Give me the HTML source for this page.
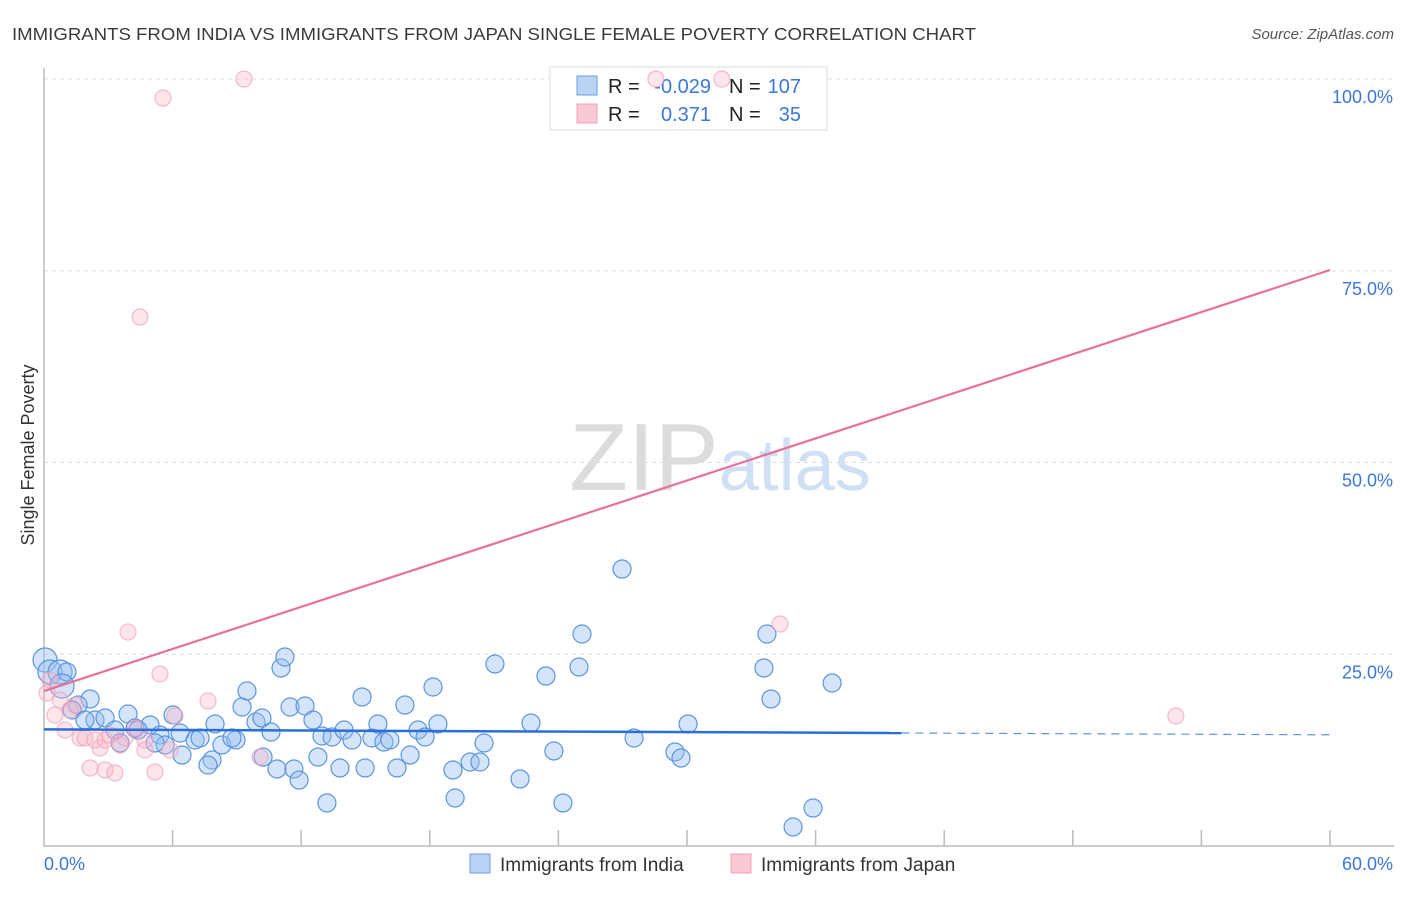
<!DOCTYPE html>
<html><head><meta charset="utf-8"><style>
body{margin:0;background:#fff;font-family:"Liberation Sans",sans-serif}
svg text{font-family:"Liberation Sans",sans-serif}
</style></head><body>
<svg id="chart" width="1406" height="892" viewBox="0 0 1406 892">
<text x="12" y="40" font-size="17.6" fill="#3a3a3a" textLength="964" lengthAdjust="spacingAndGlyphs">IMMIGRANTS FROM INDIA VS IMMIGRANTS FROM JAPAN SINGLE FEMALE POVERTY CORRELATION CHART</text>
<text x="1394" y="39" font-size="15" font-style="italic" fill="#555" text-anchor="end">Source: ZipAtlas.com</text>
<text x="720" y="490" font-size="96" text-anchor="middle" fill="#ddd" font-family="Liberation Serif"><tspan fill="#dcdcdc">ZIP</tspan><tspan fill="#cfe0f5" font-family="Liberation Sans" font-size="72">atlas</tspan></text>
<g id="grid"></g>
<g id="axes"></g>
<g>
<rect x="550" y="67" width="277" height="63" fill="#fff" stroke="#ddd"/>
<rect x="577" y="76" width="20" height="19" fill="#b9d3f5" stroke="#6a9fe0"/>
<rect x="577" y="104" width="20" height="19" fill="#fbc8d6" stroke="#f0a0b8"/>
<text x="608" y="93" font-size="20" fill="#222">R =</text>
<text x="711" y="93" font-size="20" fill="#3a78d8" text-anchor="end">-0.029</text>
<text x="729" y="93" font-size="20" fill="#222">N =</text>
<text x="801" y="93" font-size="20" fill="#3a78d8" text-anchor="end">107</text>
<text x="608" y="121" font-size="20" fill="#222">R =</text>
<text x="711" y="121" font-size="20" fill="#3a78d8" text-anchor="end">0.371</text>
<text x="729" y="121" font-size="20" fill="#222">N =</text>
<text x="801" y="121" font-size="20" fill="#3a78d8" text-anchor="end">35</text>
</g>
<g id="marks"></g>
<text transform="translate(34,455) rotate(-90)" font-size="18" fill="#333" text-anchor="middle">Single Female Poverty</text>
<g>
<rect x="470" y="854" width="20" height="19" fill="#b9d3f5" stroke="#6a9fe0"/>
<text x="500" y="871" font-size="19" fill="#333">Immigrants from India</text>
<rect x="731" y="854" width="20" height="19" fill="#fbc8d6" stroke="#f0a0b8"/>
<text x="761" y="871" font-size="19" fill="#333">Immigrants from Japan</text>
</g>
</svg>
<script>
const indiaPx=[[45,660],[50,672],[60,672],[67,672],[62,686],[90,699],[78,705],[72,710],[95,720],[105,718],[85,720],[115,730],[128,714],[135,728],[150,725],[160,735],[165,745],[173,715],[180,733],[195,740],[200,738],[215,724],[212,760],[222,745],[236,740],[242,707],[247,691],[256,722],[262,718],[271,732],[277,769],[281,668],[285,657],[290,707],[294,769],[299,780],[305,706],[313,720],[318,757],[322,736],[332,737],[340,768],[344,730],[352,740],[362,697],[365,768],[372,738],[378,724],[384,742],[390,740],[397,768],[405,705],[410,755],[418,730],[425,737],[433,687],[438,724],[453,770],[455,798],[470,762],[480,762],[484,743],[495,664],[520,779],[531,723],[546,676],[554,751],[563,803],[579,667],[582,634],[622,569],[634,738],[675,752],[681,758],[688,724],[764,668],[767,634],[771,699],[793,827],[813,808],[832,683],[327,803],[263,757],[232,738],[208,765],[182,755],[155,743],[138,730],[120,743]];
const japanPx=[[163,98],[244,79],[656,79],[722,79],[140,317],[128,632],[160,674],[208,701],[780,624],[1176,716],[47,693],[55,715],[65,730],[70,710],[75,705],[80,738],[95,740],[100,748],[90,768],[105,770],[115,773],[105,740],[120,745],[135,728],[145,750],[155,772],[175,716],[170,750],[260,757],[145,740],[125,738],[60,700],[50,680],[85,738],[110,735]];
// data values (x %, y %)
const indiaX=indiaPx.map(p=>+((p[0]-44)*60/1286).toFixed(2));
const indiaY=indiaPx.map(p=>+((846-p[1])*100/767).toFixed(2));
const japanX=japanPx.map(p=>+((p[0]-44)*60/1286).toFixed(2));
const japanY=japanPx.map(p=>+((846-p[1])*100/767).toFixed(2));
const yTicks=[25,50,75,100];
const yTickLabels=["25.0%","50.0%","75.0%","100.0%"];
const indiaTrend=[15.2,14.5]; // y at x=0 and x=60
const indiaSolidEnd=40;
const japanTrend=[20.2,75.1];
const X=v=>44+v/60*1286, Y=v=>846-v/100*767;
const NS="http://www.w3.org/2000/svg";
function mk(t,a,p){const e=document.createElementNS(NS,t);for(const k in a)e.setAttribute(k,a[k]);p.appendChild(e);return e;}
const grid=document.getElementById('grid'),axes=document.getElementById('axes'),marks=document.getElementById('marks');
yTicks.forEach((t,i)=>{
 const l=mk('line',{x1:44,x2:1394,y1:Y(t),y2:Y(t),stroke:'#ddd','stroke-dasharray':'4,4'},grid);
 
 
 const tx=mk('text',{x:1393,y:Y(t)+24,'font-size':18,fill:'#3a78d8','text-anchor':'end'},axes);
 tx.textContent=yTickLabels[i];
 
 
});
const ax=mk('path',{d:'M44,68V846H1394',stroke:'#bbb',fill:'none','stroke-width':1.5},axes);


for(let i=1;i<=10;i++){const t=mk('line',{x1:X(i*6),x2:X(i*6),y1:830,y2:846,stroke:'#bbb','stroke-width':1.5},axes);
 
 }
[["0.0%",44,'start'],["60.0%",1393,'end']].forEach(a=>{const t=mk('text',{x:a[1],y:870,'font-size':18,fill:'#3a78d8','text-anchor':a[2]},axes);t.textContent=a[0];
 
 });
indiaX.forEach((x,i)=>{const c=mk('circle',{cx:X(x),cy:Y(indiaY[i]),r:x<1?12:9,fill:'rgba(150,190,240,0.4)',stroke:'#5b95e0','stroke-width':1.2},marks);
 
 });
japanX.forEach((x,i)=>{const c=mk('circle',{cx:X(x),cy:Y(japanY[i]),r:8,fill:'rgba(248,180,200,0.35)',stroke:'rgba(240,160,184,0.7)','stroke-width':1.2},marks);
 
 });
const iy=x=>indiaTrend[0]+(indiaTrend[1]-indiaTrend[0])*x/60;
let l=mk('line',{x1:X(0),y1:Y(iy(0)),x2:X(indiaSolidEnd),y2:Y(iy(indiaSolidEnd)),stroke:'#2a6fd6','stroke-width':2.5},marks);


l=mk('line',{x1:X(indiaSolidEnd),y1:Y(iy(indiaSolidEnd)),x2:X(60),y2:Y(iy(60)),stroke:'#5b95e0','stroke-width':1.2,'stroke-dasharray':'8,6'},marks);


l=mk('line',{x1:X(0),y1:Y(japanTrend[0]),x2:X(60),y2:Y(japanTrend[1]),stroke:'#e8709a','stroke-width':2.2},marks);


</script>
</body></html>
